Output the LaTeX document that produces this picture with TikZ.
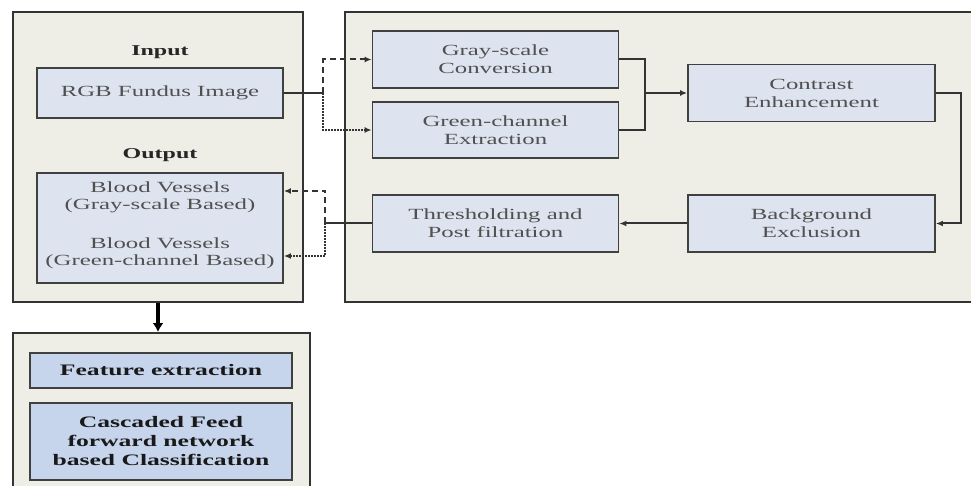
\documentclass[tikz,border=0pt]{standalone}
\usepackage{fontspec}
\setmainfont{Liberation Serif}[FakeStretch=1.6]
\usetikzlibrary{calc,arrows.meta}
\definecolor{panelfill}{HTML}{EEEEE7}
\definecolor{boxfill}{HTML}{DDE4EF}
\definecolor{deepfill}{HTML}{C6D4EC}
\definecolor{textgray}{HTML}{505050}

\begin{document}
\begin{tikzpicture}[x=1pt,y=-1pt,
    panel/.style={draw=black!80,line width=2pt,fill=panelfill},
    stage/.style={draw=black!75,line width=1.8pt,fill=boxfill,text=textgray,align=center,
      inner sep=0pt,minimum width=246,font=\fontsize{15.5}{18}\selectfont},
    deep/.style={stage,minimum width=262,fill=deepfill,text=black!90,font=\fontsize{16}{19}\selectfont\bfseries},
    head/.style={text=black!85,font=\fontsize{15}{18}\selectfont\bfseries},
    link/.style={line width=2pt,black!80},
    tip/.style={-{Latex[length=7pt,width=6pt]}},
    dashline/.style={dash pattern=on 6pt off 4pt}]
  \useasboundingbox (0,0) rectangle (971,486);
  \fill[white] (0,0) rectangle (971,486);
  % panels
  \node[panel,minimum width=290,minimum height=290] (inout) at (158,157) {};
  \node[panel,minimum width=630,minimum height=290] (pipe) at (660,157) {};
  \node[panel,minimum width=297,minimum height=160] (classif) at (161.5,413) {};
  % input / output
  \node[head] (inlabel) at (160,52) {Input};
  \node[stage,minimum height=50] (rgb) at (160,93) {RGB Fundus Image};
  \node[head] (outlabel) at (160,155) {Output};
  \node[stage,minimum height=110] (output) at (160,228) {};
  \node[text=textgray,align=center,font=\fontsize{15.5}{17}\selectfont] (vesgray) at (160,197) {Blood Vessels\\(Gray-scale Based)};
  \node[text=textgray,align=center,font=\fontsize{15.5}{17}\selectfont] (vesgreen) at (160,253) {Blood Vessels\\(Green-channel Based)};
  % processing stages
  \node[stage,minimum height=57] (gray) at (495.5,59.5) {Gray-scale\\Conversion};
  \node[stage,minimum height=56] (green) at (495.5,130) {Green-channel\\Extraction};
  \node[stage,minimum height=57,minimum width=247] (contrast) at (811.5,93) {Contrast\\Enhancement};
  \node[stage,minimum height=57,minimum width=247] (backgr) at (811.5,223.5) {Background\\Exclusion};
  \node[stage,minimum height=57] (thresh) at (495.5,223.5) {Thresholding and\\Post filtration};
  % classification
  \node[deep,minimum height=35] (feature) at (161,370.5) {Feature extraction};
  \node[deep,minimum height=77] (cascade) at (161,441.5) {Cascaded Feed\\forward network\\based Classification};
  % connectors
  \coordinate (fork) at (323,93);
  \coordinate (join) at (645,93);
  \coordinate (split) at (325,223.5);
  \coordinate (ingray) at (output.east |- 0,191);
  \coordinate (ingreen) at (output.east |- 0,256);
  \draw[link] (rgb.east) -- (fork);
  \draw[link,tip,dashline] (fork) |- (gray.west);
  \draw[link,tip,densely dotted] (fork) |- (green.west);
  \draw[link] (gray.east) -| (join) (green.east) -| (join);
  \draw[link,tip] (join) -- (contrast.west);
  \draw[link,tip] (contrast.east) -- ++(25,0) |- (backgr.east);
  \draw[link,tip] (backgr.west) -- (thresh.east);
  \draw[link] (thresh.west) -- (split);
  \draw[link,tip,dashline] (split) |- (ingray);
  \draw[link,tip,densely dotted] (split) |- (ingreen);
  \draw[line width=3.5pt,-{Latex[length=9pt,width=11pt]}] (inout.south) -- (inout.south |- classif.north);
\end{tikzpicture}
\end{document}
